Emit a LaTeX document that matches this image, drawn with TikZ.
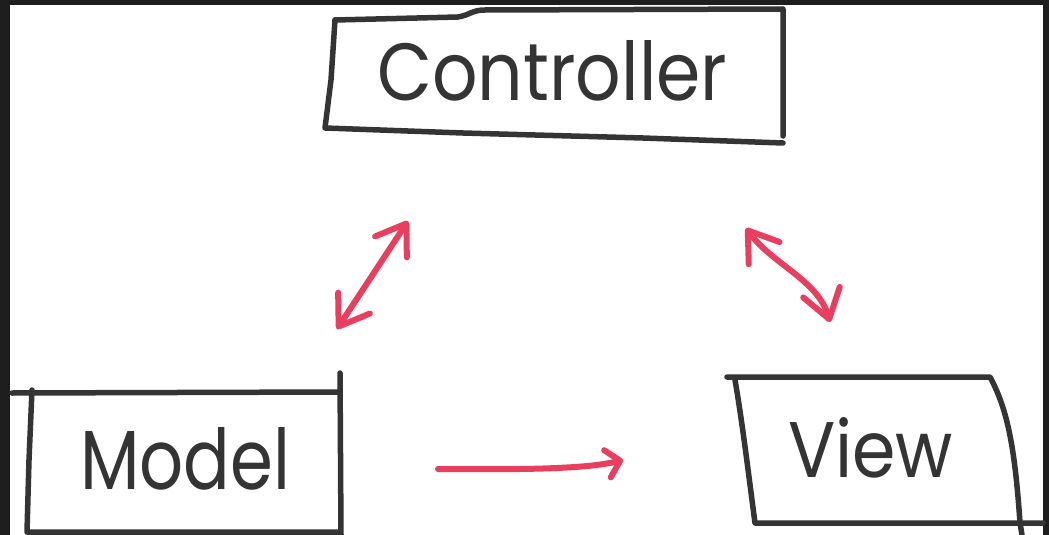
\documentclass[tikz,border=0pt]{standalone}
\usepackage{fontspec}
\setmainfont{Poppins}
\usetikzlibrary{arrows.meta}
\definecolor{frame}{RGB}{30,30,30}
\definecolor{ink}{RGB}{52,52,52}
\definecolor{pen}{RGB}{233,62,94}
\begin{document}
\begin{tikzpicture}[x=1pt,y=-1pt,
  box/.style={draw=ink,line width=5.5pt,line cap=round,line join=round},
  link/.style={draw=pen,line width=6pt,line cap=round},
  tag/.style={inner sep=0pt,text=ink,anchor=base west},
  bighead/.tip={Straight Barb[length=28pt,width=38pt,round]},
  smallhead/.tip={Straight Barb[length=13pt,width=28pt,round]}]
% dark frame and white sheet
\fill[frame] (0,0) rectangle (1049,535);
\fill[white] (10,5) rectangle (1043,535);
\useasboundingbox (0,0) rectangle (1049,535);

% labels
\node[tag] (ctrl) at (377,100) {\resizebox{350pt}{60pt}{Controller}};
\node[tag] (model) at (80,489) {\resizebox{210pt}{62pt}{Model}};
\node[tag] (view) at (788,477) {\resizebox{165pt}{60pt}{View}};

% hand-drawn outlines
\draw[box] (335,20) -- (458,17) .. controls (470,15) and (472,10) .. (485,10) -- (783,9) -- (783,136);
\draw[box] (335,20) -- (331,80) -- (325,128) -- (463,133) -- (643,138) -- (783,143);
\draw[box] (12,393) -- (340,392);
\draw[box] (32,390) -- (29,460) -- (27,532) -- (340,532);
\draw[box] (340,373) -- (341,535);
\draw[box] (727,377) -- (990,377) .. controls (1008,410) and (1015,450) .. (1020,523) -- (1022,535);
\draw[box] (735,380) .. controls (742,420) and (748,470) .. (755,523) -- (1043,523);

% connectors
\coordinate (cm1) at (408,221);
\coordinate (cm2) at (337,329);
\coordinate (cv1) at (746,228);
\coordinate (cv2) at (830,322);
\coordinate (mv1) at (438,469);
\coordinate (mv2) at (623,460);
\draw[link,bighead-bighead] (cm1) -- (cm2);
\draw[link,bighead-bighead] (cv1) .. controls (772,264) and (818,280) .. (cv2);
\draw[link,-smallhead] (mv1) .. controls (540,470) and (590,468) .. (mv2);
\end{tikzpicture}
\end{document}
